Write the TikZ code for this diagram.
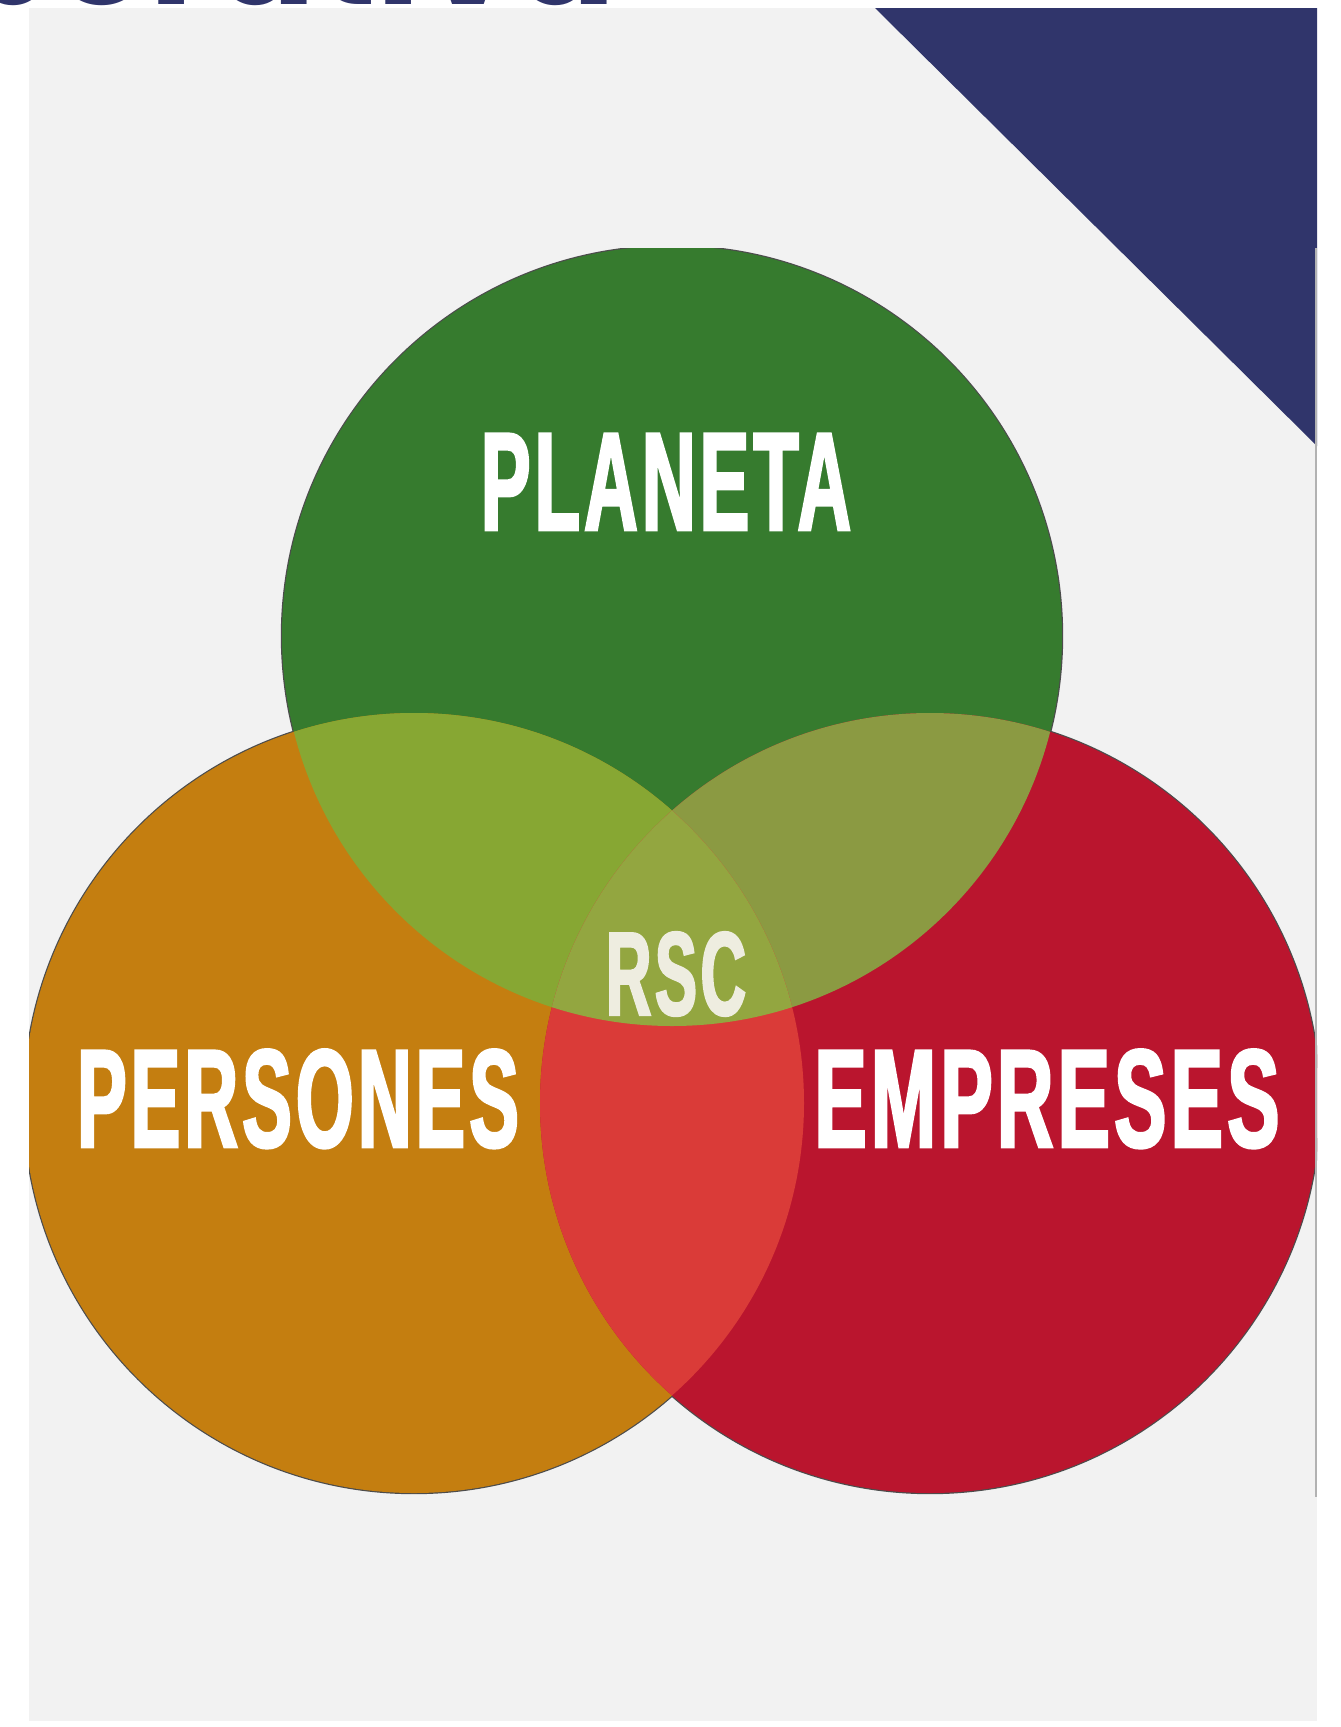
\documentclass[tikz,border=0pt]{standalone}
\usepackage{fontspec}
\newfontfamily\condfont[FakeStretch=0.53,FakeBold=1.8,LetterSpace=3]{Liberation Sans Bold}
\newfontfamily\condwide[FakeStretch=0.56,FakeBold=1.8,LetterSpace=3]{Liberation Sans Bold}
\newfontfamily\titlefont{Poppins}
\definecolor{navy}{HTML}{30356B}
\definecolor{panelgrey}{HTML}{F2F2F2}
\definecolor{cgreen}{HTML}{367B2E}
\definecolor{corange}{HTML}{C47E10}
\definecolor{cred}{HTML}{BA152E}
\definecolor{cgo}{HTML}{87A733}
\definecolor{cgr}{HTML}{8B9A42}
\definecolor{cor}{HTML}{DA3B38}
\definecolor{ccenter}{HTML}{93A640}
\definecolor{rsctext}{HTML}{EEEDE0}
\tikzset{
  vennedge/.style={draw=black!70, line width=2.4pt},
  biglabel/.style={anchor=base, inner sep=0pt, text=white,
    font=\condfont\fontsize{140}{140}\selectfont},
}
\begin{document}
\begin{tikzpicture}[x=1pt,y=-1pt]
\useasboundingbox (0,0) rectangle (1341,1727);
\fill[white] (0,0) rectangle (1341,1727);
\node[anchor=base east, inner sep=0pt, text=navy,
  font=\titlefont\bfseries\fontsize{150}{150}\selectfont] (title) at (617,4) {Corporativa};
\fill[panelgrey] (29,8) rectangle (1317,1721);
\fill[navy] (875,8) -- (1317,8) -- (1317,446) -- cycle;
\coordinate (cg) at (672,636);
\coordinate (co) at (414,1103);
\coordinate (cr) at (930,1103);
\begin{scope}
  \clip (29,248) rectangle (1317,1497);
  \draw[vennedge] (cg) circle [radius=390pt];
  \draw[vennedge] (co) circle [radius=390pt];
  \draw[vennedge] (cr) circle [radius=390pt];
  \fill[cgreen] (cg) circle [radius=390pt];
  \fill[corange] (co) circle [radius=390pt];
  \fill[cred] (cr) circle [radius=390pt];
  \begin{scope}
    \clip (cg) circle [radius=390pt];
    \fill[cgo] (co) circle [radius=390pt];
    \fill[cgr] (cr) circle [radius=390pt];
  \end{scope}
  \begin{scope}
    \clip (co) circle [radius=390pt];
    \fill[cor] (cr) circle [radius=390pt];
  \end{scope}
  \begin{scope}
    \clip (cg) circle [radius=390pt];
    \clip (co) circle [radius=390pt];
    \fill[ccenter] (cr) circle [radius=390pt];
  \end{scope}
\end{scope}
\draw[line width=2pt, black!30] (1316,248) -- (1316,1497);
\node[biglabel] (planeta) at (666,530) {PLANETA};
\node[biglabel] (persones) at (298,1147) {PERSONES};
\node[biglabel, font=\condwide\fontsize{140}{140}\selectfont] (empreses) at (1047,1147) {EMPRESES};
\node[biglabel, text=rsctext, font=\condfont\fontsize{119}{119}\selectfont] (rsc) at (676,1015) {RSC};
\end{tikzpicture}
\end{document}
